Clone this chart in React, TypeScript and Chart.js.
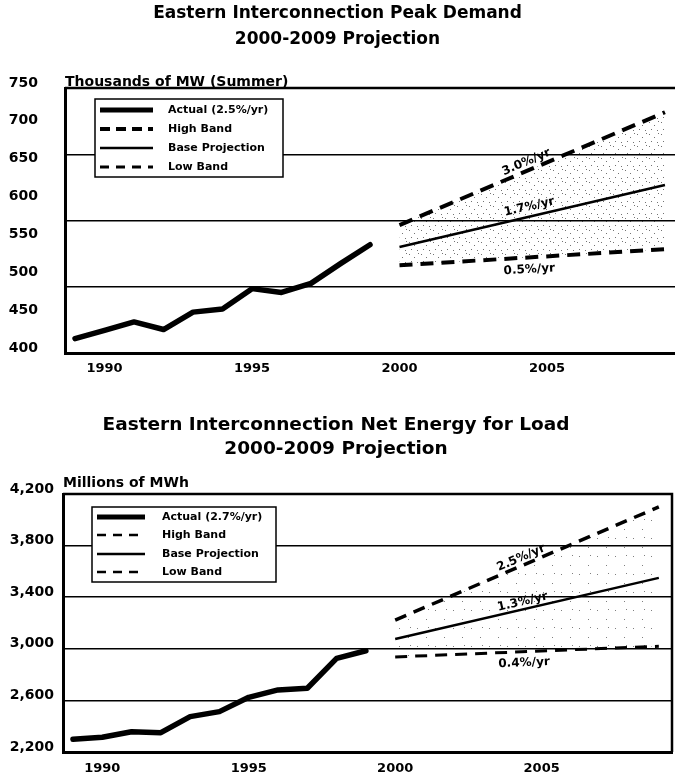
import React, { useEffect, useRef } from 'react';
import { Chart, registerables } from 'chart.js';

Chart.register(...registerables);

// ---------- data ----------
const ACTUAL_YEARS = [1989, 1990, 1991, 1992, 1993, 1994, 1995, 1996, 1997, 1998, 1999];
const PROJ_YEARS = [2000, 2009];
const X_TICKS = [1990, 1995, 2000, 2005];

const PEAK_ACTUAL = [419, 430, 441, 431, 454, 458, 485, 480, 492, 518, 543];
const PEAK_HIGH = [569, 718];
const PEAK_BASE = [540, 622];
const PEAK_LOW = [516, 537];
const PEAK_Y_TICKS = [400, 450, 500, 550, 600, 650, 700, 750];
const PEAK_GRID = [400, 487.5, 575, 662.5, 750];
const PEAK_LEGEND = ['Actual (2.5%/yr)', 'High Band', 'Base Projection', 'Low Band'];
const PEAK_RATES = ['3.0%/yr', '1.7%/yr', '0.5%/yr'];
const PEAK_RATE_YEARS = [2004.3, 2004.4, 2004.4];
const PEAK_RATE_VALUES = [652, 593, 510];

const ENERGY_ACTUAL = [2298, 2314, 2357, 2350, 2474, 2513, 2624, 2681, 2694, 2926, 2985];
const ENERGY_HIGH = [3223, 4100];
const ENERGY_BASE = [3076, 3550];
const ENERGY_LOW = [2937, 3020];
const ENERGY_Y_TICKS = [2200, 2600, 3000, 3400, 3800, 4200];
const ENERGY_LEGEND = ['Actual (2.7%/yr)', 'High Band', 'Base Projection', 'Low Band'];
const ENERGY_RATES = ['2.5%/yr', '1.3%/yr', '0.4%/yr'];
const ENERGY_RATE_YEARS = [2004.3, 2004.35, 2004.4];
const ENERGY_RATE_VALUES = [3704, 3363, 2890];

const FONT = "'DejaVu Sans', 'Liberation Sans', sans-serif";
Chart.defaults.font.family = FONT;
Chart.defaults.color = '#000';

// ---------- plugins ----------
const framePlugin = {
  id: 'frame',
  afterDatasetsDraw(chart: any, _a: any, o: any) {
    const { ctx, chartArea } = chart;
    const { left, top, right, bottom } = chartArea;
    ctx.save();
    ctx.strokeStyle = '#000';
    ctx.lineWidth = 2.5;
    ctx.beginPath();
    ctx.moveTo(left, top);
    ctx.lineTo(right, top);
    if (o.right) {
      ctx.lineTo(right, bottom);
    }
    ctx.stroke();
    ctx.restore();
  },
};

const rateLabelPlugin = {
  id: 'rateLabels',
  afterDatasetsDraw(chart: any, _a: any, o: any) {
    const { ctx } = chart;
    const xs = chart.scales.x;
    const ys = chart.scales.y;
    ctx.save();
    ctx.fillStyle = '#000';
    ctx.font = `bold ${o.size}px ${FONT}`;
    ctx.textAlign = 'center';
    ctx.textBaseline = 'middle';
    (o.items || []).forEach((it: any) => {
      const ds = chart.data.datasets[it.ds];
      const p0 = ds.data[0];
      const p1 = ds.data[ds.data.length - 1];
      const ang = Math.atan2(
        ys.getPixelForValue(p1.y) - ys.getPixelForValue(p0.y),
        xs.getPixelForValue(p1.x) - xs.getPixelForValue(p0.x)
      );
      ctx.save();
      ctx.translate(xs.getPixelForValue(it.x), ys.getPixelForValue(it.y));
      ctx.rotate(ang);
      ctx.fillText(it.text, 0, 0);
      ctx.restore();
    });
    ctx.restore();
  },
};

const boxLegendPlugin = {
  id: 'boxLegend',
  afterDraw(chart: any, _a: any, o: any) {
    const { ctx, chartArea } = chart;
    const x = chartArea.left + o.dx;
    const y = chartArea.top + o.dy;
    ctx.save();
    ctx.fillStyle = '#fff';
    ctx.fillRect(x, y, o.w, o.h);
    ctx.lineWidth = 1.5;
    ctx.strokeStyle = '#000';
    ctx.strokeRect(x, y, o.w, o.h);
    chart.data.datasets.forEach((ds: any, i: number) => {
      const ry = y + o.rowY[i];
      ctx.beginPath();
      ctx.setLineDash(o.dashes[i]);
      ctx.lineWidth = o.widths[i];
      ctx.moveTo(x + o.sampleX, ry);
      ctx.lineTo(x + o.sampleX + o.sampleLen, ry);
      ctx.stroke();
      ctx.setLineDash([]);
      ctx.fillStyle = '#000';
      ctx.font = `bold 11px ${FONT}`;
      ctx.textAlign = 'left';
      ctx.textBaseline = 'middle';
      ctx.fillText(ds.label, x + o.textX, ry);
    });
    ctx.restore();
  },
};

function makeStipple(size: number, dots: number[][], alpha: number) {
  const c = document.createElement('canvas');
  c.width = size;
  c.height = size;
  const g = c.getContext('2d')!;
  g.fillStyle = `rgba(0,0,0,${alpha})`;
  dots.forEach(([dx, dy]) => g.fillRect(dx, dy, 1, 1));
  return g.createPattern(c, 'repeat');
}

const toXY = (xs: number[], ys: number[]) => xs.map((x, i) => ({ x, y: ys[i] }));

// ---------- configs ----------
function peakConfig(): any {
  const stipple = makeStipple(12, [[1, 2], [6, 5], [9, 10], [3, 9], [10, 1]], 0.55);
  return {
    type: 'line',
    data: {
      datasets: [
        { label: PEAK_LEGEND[0], data: toXY(ACTUAL_YEARS, PEAK_ACTUAL), borderColor: '#000', borderWidth: 5.5, pointRadius: 0, fill: false, borderJoinStyle: 'round', borderCapStyle: 'round' },
        { label: PEAK_LEGEND[1], data: toXY(PROJ_YEARS, PEAK_HIGH), borderColor: '#000', borderWidth: 4, borderDash: [14, 8], pointRadius: 0, fill: '+2', backgroundColor: stipple },
        { label: PEAK_LEGEND[2], data: toXY(PROJ_YEARS, PEAK_BASE), borderColor: '#000', borderWidth: 2.5, pointRadius: 0, fill: false },
        { label: PEAK_LEGEND[3], data: toXY(PROJ_YEARS, PEAK_LOW), borderColor: '#000', borderWidth: 4, borderDash: [13, 8], pointRadius: 0, fill: false },
      ],
    },
    options: {
      animation: false,
      responsive: false,
      layout: { padding: { left: 0, right: 0, top: 0, bottom: 0 } },
      scales: {
        x: {
          type: 'linear', min: 1988.66, max: 2009.34,
          afterBuildTicks: (s: any) => { s.ticks = X_TICKS.map((v) => ({ value: v })); },
          afterFit: (s: any) => { s.height = 37; },
          ticks: { callback: (v: any) => String(v), font: { size: 13, weight: 'bold' }, padding: 8, maxRotation: 0 },
          grid: { display: false, drawTicks: false },
          border: { display: true, color: '#000', width: 3 },
        },
        y: {
          type: 'linear', min: 400, max: 750,
          afterBuildTicks: (s: any) => { s.ticks = PEAK_Y_TICKS.map((v) => ({ value: v })); },
          afterFit: (s: any) => { s.width = 65; },
          ticks: { callback: (v: any) => String(v), font: { size: 14, weight: 'bold' }, padding: 27, labelOffset: -5 },
          grid: { display: false, drawTicks: false },
          border: { display: true, color: '#000', width: 3 },
        },
        yGrid: {
          type: 'linear', position: 'left', min: 400, max: 750,
          afterBuildTicks: (s: any) => { s.ticks = PEAK_GRID.map((v) => ({ value: v })); },
          afterFit: (s: any) => { s.width = 0; },
          ticks: { display: false },
          grid: { color: '#000', lineWidth: 1.5, drawTicks: false },
          border: { display: false },
        },
      },
      plugins: {
        legend: { display: false },
        tooltip: { enabled: false },
        title: {
          display: true,
          text: ['Eastern Interconnection Peak Demand', '2000-2009 Projection'],
          font: { size: 17, weight: 'bold', lineHeight: '26px' },
          padding: { top: 1, bottom: 9 },
          color: '#000',
        },
        subtitle: {
          display: true,
          text: 'Thousands of MW (Summer)',
          align: 'start',
          fullSize: false,
          font: { size: 14, weight: 'bold', lineHeight: '12px' },
          padding: { top: 14, bottom: 0 },
          color: '#000',
        },
        frame: { right: false },
        rateLabels: {
          size: 12,
          items: PEAK_RATES.map((t, i) => ({ text: t, x: PEAK_RATE_YEARS[i], y: PEAK_RATE_VALUES[i], ds: i + 1 })),
        },
        boxLegend: {
          dx: 30, dy: 11, w: 188, h: 78, rowY: [11, 30, 49, 68],
          sampleX: 5, sampleLen: 53, textX: 73,
          widths: [5, 4, 2.5, 3], dashes: [[], [10, 6], [], [9, 7]],
        },
      },
    },
    plugins: [framePlugin, rateLabelPlugin, boxLegendPlugin],
  };
}

function energyConfig(): any {
  const stipple = makeStipple(18, [[3, 4], [12, 13], [14, 3]], 0.5);
  return {
    type: 'line',
    data: {
      datasets: [
        { label: ENERGY_LEGEND[0], data: toXY(ACTUAL_YEARS, ENERGY_ACTUAL), borderColor: '#000', borderWidth: 5.5, pointRadius: 0, fill: false, borderJoinStyle: 'round', borderCapStyle: 'round' },
        { label: ENERGY_LEGEND[1], data: toXY(PROJ_YEARS, ENERGY_HIGH), borderColor: '#000', borderWidth: 3.5, borderDash: [12, 8], pointRadius: 0, fill: '+2', backgroundColor: stipple },
        { label: ENERGY_LEGEND[2], data: toXY(PROJ_YEARS, ENERGY_BASE), borderColor: '#000', borderWidth: 2.5, pointRadius: 0, fill: false },
        { label: ENERGY_LEGEND[3], data: toXY(PROJ_YEARS, ENERGY_LOW), borderColor: '#000', borderWidth: 3, borderDash: [12, 8], pointRadius: 0, fill: false },
      ],
    },
    options: {
      animation: false,
      responsive: false,
      layout: { padding: { left: 0, right: 3, top: 0, bottom: 0 } },
      scales: {
        x: {
          type: 'linear', min: 1988.66, max: 2009.45,
          afterBuildTicks: (s: any) => { s.ticks = X_TICKS.map((v) => ({ value: v })); },
          afterFit: (s: any) => { s.height = 28; },
          ticks: { callback: (v: any) => String(v), font: { size: 13, weight: 'bold' }, padding: 9, maxRotation: 0 },
          grid: { display: false, drawTicks: false },
          border: { display: true, color: '#000', width: 3 },
        },
        y: {
          type: 'linear', min: 2200, max: 4200,
          afterBuildTicks: (s: any) => { s.ticks = ENERGY_Y_TICKS.map((v) => ({ value: v })); },
          afterFit: (s: any) => { s.width = 63; },
          ticks: { callback: (v: any) => Number(v).toLocaleString('en-US'), font: { size: 14, weight: 'bold' }, padding: 9, labelOffset: -5 },
          grid: { color: '#000', lineWidth: 1.5, drawTicks: false },
          border: { display: true, color: '#000', width: 3 },
        },
      },
      plugins: {
        legend: { display: false },
        tooltip: { enabled: false },
        title: {
          display: true,
          text: ['Eastern Interconnection Net Energy for Load', '2000-2009 Projection'],
          font: { size: 18.5, weight: 'bold', lineHeight: '24px' },
          padding: { top: 23, bottom: 6 },
          color: '#000',
        },
        subtitle: {
          display: true,
          text: 'Millions of MWh',
          align: 'start',
          fullSize: false,
          font: { size: 14, weight: 'bold', lineHeight: '12px' },
          padding: { top: 10, bottom: 5 },
          color: '#000',
        },
        frame: { right: true },
        rateLabels: {
          size: 12,
          items: ENERGY_RATES.map((t, i) => ({ text: t, x: ENERGY_RATE_YEARS[i], y: ENERGY_RATE_VALUES[i], ds: i + 1 })),
        },
        boxLegend: {
          dx: 29, dy: 13, w: 184, h: 75, rowY: [10, 28, 47, 65],
          sampleX: 5, sampleLen: 48, textX: 70,
          widths: [5, 2.5, 2.5, 2.5], dashes: [[], [9, 7], [], [9, 7]],
        },
      },
    },
    plugins: [framePlugin, rateLabelPlugin, boxLegendPlugin],
  };
}

function ChartCanvas({ make }: { make: () => any }) {
  const ref = useRef<HTMLCanvasElement | null>(null);
  useEffect(() => {
    if (!ref.current) return;
    const chart = new Chart(ref.current, make());
    return () => chart.destroy();
  }, [make]);
  return <canvas ref={ref} width={675} height={390} style={{ display: 'block', width: 675, height: 390 }} />;
}

export default function App() {
  return (
    <div style={{ position: 'absolute', left: 0, top: 0, width: 675, height: 780, background: '#fff' }}>
      <ChartCanvas make={peakConfig} />
      <ChartCanvas make={energyConfig} />
    </div>
  );
}
